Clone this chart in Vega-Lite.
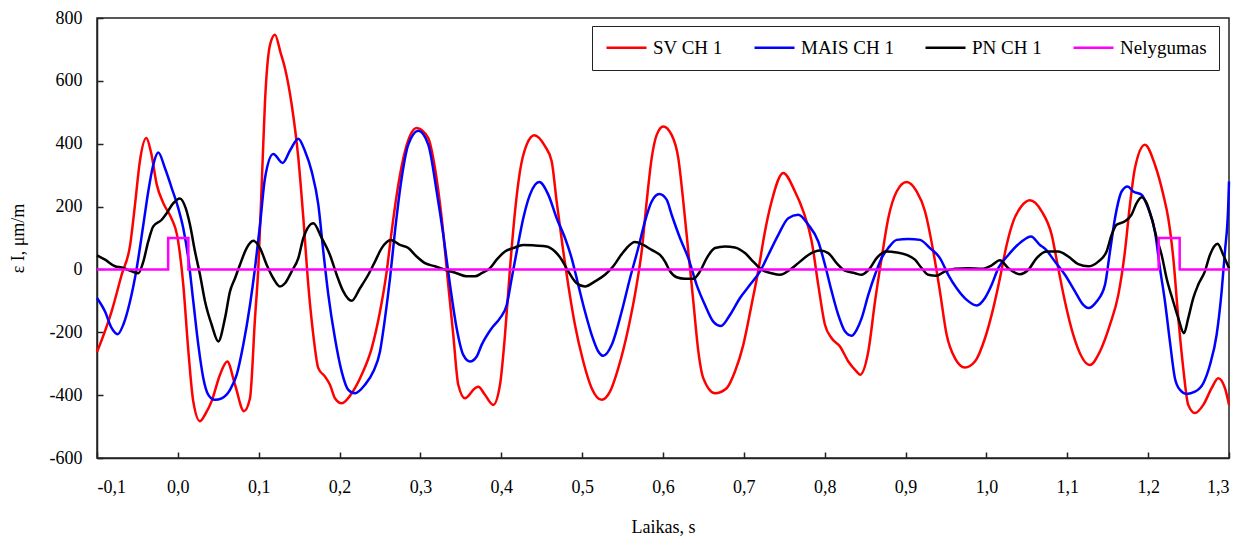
{
"$schema": "https://vega.github.io/schema/vega-lite/v6.json",
"width": 1132, "height": 440,
"autosize": {"type": "none"},
"padding": {"left": 97, "top": 18, "right": 29, "bottom": 79},
"background": "white",
"config": {
  "view": {"stroke": "#222", "strokeWidth": 1.5},
  "font": "Liberation Serif",
  "axis": {"labelFont": "Liberation Serif", "titleFont": "Liberation Serif", "labelFontSize": 18, "titleFontSize": 18, "titleFontWeight": "normal", "labelColor": "#000", "titleColor": "#000", "domainColor": "#222", "domainWidth": 1.5, "tickColor": "#222", "tickWidth": 1.5, "tickSize": -6, "grid": false}
},
"datasets": {
"d": [
{"s":"SV CH 1","x":-0.1,"y":-263},{"s":"SV CH 1","x":-0.082,"y":-134},{"s":"SV CH 1","x":-0.0695,"y":-17},{"s":"SV CH 1","x":-0.059,"y":78},{"s":"SV CH 1","x":-0.053,"y":206},{"s":"SV CH 1","x":-0.047,"y":344},{"s":"SV CH 1","x":-0.039,"y":418},{"s":"SV CH 1","x":-0.033,"y":370},{"s":"SV CH 1","x":-0.026,"y":269},{"s":"SV CH 1","x":-0.018,"y":211},{"s":"SV CH 1","x":-0.008,"y":163},{"s":"SV CH 1","x":-0.001,"y":110},{"s":"SV CH 1","x":0.0067,"y":-49},{"s":"SV CH 1","x":0.013,"y":-260},{"s":"SV CH 1","x":0.019,"y":-419},{"s":"SV CH 1","x":0.0274,"y":-483},{"s":"SV CH 1","x":0.034,"y":-460},{"s":"SV CH 1","x":0.0418,"y":-419},{"s":"SV CH 1","x":0.0521,"y":-335},{"s":"SV CH 1","x":0.0611,"y":-293},{"s":"SV CH 1","x":0.0707,"y":-367},{"s":"SV CH 1","x":0.0818,"y":-451},{"s":"SV CH 1","x":0.0892,"y":-410},{"s":"SV CH 1","x":0.0954,"y":-155},{"s":"SV CH 1","x":0.0995,"y":4},{"s":"SV CH 1","x":0.1037,"y":269},{"s":"SV CH 1","x":0.1078,"y":536},{"s":"SV CH 1","x":0.114,"y":715},{"s":"SV CH 1","x":0.1201,"y":747},{"s":"SV CH 1","x":0.127,"y":690},{"s":"SV CH 1","x":0.1325,"y":640},{"s":"SV CH 1","x":0.1408,"y":524},{"s":"SV CH 1","x":0.149,"y":354},{"s":"SV CH 1","x":0.1552,"y":163},{"s":"SV CH 1","x":0.1613,"y":-49},{"s":"SV CH 1","x":0.1675,"y":-208},{"s":"SV CH 1","x":0.1737,"y":-314},{"s":"SV CH 1","x":0.182,"y":-341},{"s":"SV CH 1","x":0.1881,"y":-367},{"s":"SV CH 1","x":0.1943,"y":-410},{"s":"SV CH 1","x":0.2026,"y":-426},{"s":"SV CH 1","x":0.215,"y":-394},{"s":"SV CH 1","x":0.2273,"y":-335},{"s":"SV CH 1","x":0.2397,"y":-251},{"s":"SV CH 1","x":0.25,"y":-134},{"s":"SV CH 1","x":0.2583,"y":-6},{"s":"SV CH 1","x":0.2644,"y":121},{"s":"SV CH 1","x":0.2726,"y":269},{"s":"SV CH 1","x":0.2809,"y":376},{"s":"SV CH 1","x":0.2953,"y":450},{"s":"SV CH 1","x":0.3097,"y":418},{"s":"SV CH 1","x":0.318,"y":322},{"s":"SV CH 1","x":0.3263,"y":163},{"s":"SV CH 1","x":0.3344,"y":-49},{"s":"SV CH 1","x":0.3406,"y":-208},{"s":"SV CH 1","x":0.3468,"y":-367},{"s":"SV CH 1","x":0.3551,"y":-410},{"s":"SV CH 1","x":0.3675,"y":-378},{"s":"SV CH 1","x":0.3716,"y":-373},{"s":"SV CH 1","x":0.3798,"y":-399},{"s":"SV CH 1","x":0.3901,"y":-431},{"s":"SV CH 1","x":0.3984,"y":-367},{"s":"SV CH 1","x":0.4046,"y":-208},{"s":"SV CH 1","x":0.4108,"y":4},{"s":"SV CH 1","x":0.417,"y":185},{"s":"SV CH 1","x":0.4231,"y":312},{"s":"SV CH 1","x":0.4314,"y":397},{"s":"SV CH 1","x":0.4408,"y":427},{"s":"SV CH 1","x":0.454,"y":392},{"s":"SV CH 1","x":0.4623,"y":344},{"s":"SV CH 1","x":0.4685,"y":216},{"s":"SV CH 1","x":0.4767,"y":57},{"s":"SV CH 1","x":0.4828,"y":-49},{"s":"SV CH 1","x":0.4911,"y":-176},{"s":"SV CH 1","x":0.5014,"y":-293},{"s":"SV CH 1","x":0.5118,"y":-378},{"s":"SV CH 1","x":0.5241,"y":-415},{"s":"SV CH 1","x":0.5344,"y":-389},{"s":"SV CH 1","x":0.5447,"y":-314},{"s":"SV CH 1","x":0.5571,"y":-187},{"s":"SV CH 1","x":0.5674,"y":-49},{"s":"SV CH 1","x":0.5736,"y":57},{"s":"SV CH 1","x":0.5798,"y":216},{"s":"SV CH 1","x":0.586,"y":354},{"s":"SV CH 1","x":0.5922,"y":428},{"s":"SV CH 1","x":0.6003,"y":455},{"s":"SV CH 1","x":0.6107,"y":428},{"s":"SV CH 1","x":0.6189,"y":354},{"s":"SV CH 1","x":0.6251,"y":216},{"s":"SV CH 1","x":0.6313,"y":57},{"s":"SV CH 1","x":0.6375,"y":-102},{"s":"SV CH 1","x":0.6437,"y":-261},{"s":"SV CH 1","x":0.6498,"y":-346},{"s":"SV CH 1","x":0.6643,"y":-394},{"s":"SV CH 1","x":0.6787,"y":-378},{"s":"SV CH 1","x":0.689,"y":-325},{"s":"SV CH 1","x":0.6993,"y":-240},{"s":"SV CH 1","x":0.7095,"y":-113},{"s":"SV CH 1","x":0.7177,"y":-6},{"s":"SV CH 1","x":0.7261,"y":121},{"s":"SV CH 1","x":0.7343,"y":216},{"s":"SV CH 1","x":0.7487,"y":307},{"s":"SV CH 1","x":0.7632,"y":248},{"s":"SV CH 1","x":0.7735,"y":185},{"s":"SV CH 1","x":0.7839,"y":89},{"s":"SV CH 1","x":0.792,"y":-49},{"s":"SV CH 1","x":0.8003,"y":-176},{"s":"SV CH 1","x":0.8086,"y":-219},{"s":"SV CH 1","x":0.8189,"y":-245},{"s":"SV CH 1","x":0.8292,"y":-293},{"s":"SV CH 1","x":0.8395,"y":-325},{"s":"SV CH 1","x":0.8436,"y":-335},{"s":"SV CH 1","x":0.8539,"y":-261},{"s":"SV CH 1","x":0.8622,"y":-102},{"s":"SV CH 1","x":0.8704,"y":36},{"s":"SV CH 1","x":0.8786,"y":163},{"s":"SV CH 1","x":0.889,"y":248},{"s":"SV CH 1","x":0.9013,"y":278},{"s":"SV CH 1","x":0.9137,"y":248},{"s":"SV CH 1","x":0.924,"y":185},{"s":"SV CH 1","x":0.9343,"y":57},{"s":"SV CH 1","x":0.9425,"y":-70},{"s":"SV CH 1","x":0.9508,"y":-208},{"s":"SV CH 1","x":0.961,"y":-282},{"s":"SV CH 1","x":0.9734,"y":-312},{"s":"SV CH 1","x":0.9858,"y":-293},{"s":"SV CH 1","x":0.9982,"y":-219},{"s":"SV CH 1","x":1.0085,"y":-123},{"s":"SV CH 1","x":1.0167,"y":-28},{"s":"SV CH 1","x":1.025,"y":78},{"s":"SV CH 1","x":1.0332,"y":153},{"s":"SV CH 1","x":1.043,"y":200},{"s":"SV CH 1","x":1.0538,"y":220},{"s":"SV CH 1","x":1.0683,"y":185},{"s":"SV CH 1","x":1.0807,"y":110},{"s":"SV CH 1","x":1.0888,"y":4},{"s":"SV CH 1","x":1.0971,"y":-102},{"s":"SV CH 1","x":1.1074,"y":-208},{"s":"SV CH 1","x":1.128,"y":-304},{"s":"SV CH 1","x":1.1404,"y":-261},{"s":"SV CH 1","x":1.1528,"y":-176},{"s":"SV CH 1","x":1.1631,"y":-81},{"s":"SV CH 1","x":1.1713,"y":57},{"s":"SV CH 1","x":1.1775,"y":206},{"s":"SV CH 1","x":1.1837,"y":323},{"s":"SV CH 1","x":1.196,"y":397},{"s":"SV CH 1","x":1.2084,"y":333},{"s":"SV CH 1","x":1.2187,"y":238},{"s":"SV CH 1","x":1.2249,"y":163},{"s":"SV CH 1","x":1.2311,"y":36},{"s":"SV CH 1","x":1.2373,"y":-155},{"s":"SV CH 1","x":1.2434,"y":-314},{"s":"SV CH 1","x":1.2496,"y":-431},{"s":"SV CH 1","x":1.2579,"y":-457},{"s":"SV CH 1","x":1.2682,"y":-431},{"s":"SV CH 1","x":1.2785,"y":-378},{"s":"SV CH 1","x":1.2867,"y":-346},{"s":"SV CH 1","x":1.295,"y":-378},{"s":"SV CH 1","x":1.3,"y":-431},
{"s":"MAIS CH 1","x":-0.1,"y":-91},{"s":"MAIS CH 1","x":-0.0901,"y":-134},{"s":"MAIS CH 1","x":-0.0818,"y":-187},{"s":"MAIS CH 1","x":-0.0744,"y":-206},{"s":"MAIS CH 1","x":-0.0675,"y":-176},{"s":"MAIS CH 1","x":-0.0592,"y":-102},{"s":"MAIS CH 1","x":-0.0509,"y":4},{"s":"MAIS CH 1","x":-0.0427,"y":142},{"s":"MAIS CH 1","x":-0.0366,"y":248},{"s":"MAIS CH 1","x":-0.0304,"y":333},{"s":"MAIS CH 1","x":-0.0242,"y":372},{"s":"MAIS CH 1","x":-0.0159,"y":322},{"s":"MAIS CH 1","x":-0.0076,"y":259},{"s":"MAIS CH 1","x":0.0005,"y":195},{"s":"MAIS CH 1","x":0.0067,"y":131},{"s":"MAIS CH 1","x":0.0129,"y":36},{"s":"MAIS CH 1","x":0.0191,"y":-102},{"s":"MAIS CH 1","x":0.0253,"y":-240},{"s":"MAIS CH 1","x":0.0315,"y":-346},{"s":"MAIS CH 1","x":0.0377,"y":-399},{"s":"MAIS CH 1","x":0.0459,"y":-415},{"s":"MAIS CH 1","x":0.0542,"y":-410},{"s":"MAIS CH 1","x":0.0645,"y":-383},{"s":"MAIS CH 1","x":0.0728,"y":-335},{"s":"MAIS CH 1","x":0.0809,"y":-240},{"s":"MAIS CH 1","x":0.0892,"y":-113},{"s":"MAIS CH 1","x":0.0954,"y":4},{"s":"MAIS CH 1","x":0.1016,"y":142},{"s":"MAIS CH 1","x":0.1078,"y":291},{"s":"MAIS CH 1","x":0.118,"y":367},{"s":"MAIS CH 1","x":0.1297,"y":339},{"s":"MAIS CH 1","x":0.139,"y":380},{"s":"MAIS CH 1","x":0.149,"y":416},{"s":"MAIS CH 1","x":0.1573,"y":376},{"s":"MAIS CH 1","x":0.1655,"y":312},{"s":"MAIS CH 1","x":0.1737,"y":206},{"s":"MAIS CH 1","x":0.1799,"y":57},{"s":"MAIS CH 1","x":0.1861,"y":-81},{"s":"MAIS CH 1","x":0.1943,"y":-219},{"s":"MAIS CH 1","x":0.2026,"y":-325},{"s":"MAIS CH 1","x":0.2108,"y":-383},{"s":"MAIS CH 1","x":0.2191,"y":-394},{"s":"MAIS CH 1","x":0.2314,"y":-367},{"s":"MAIS CH 1","x":0.2417,"y":-325},{"s":"MAIS CH 1","x":0.25,"y":-261},{"s":"MAIS CH 1","x":0.2562,"y":-155},{"s":"MAIS CH 1","x":0.2624,"y":-28},{"s":"MAIS CH 1","x":0.2685,"y":121},{"s":"MAIS CH 1","x":0.2768,"y":291},{"s":"MAIS CH 1","x":0.285,"y":397},{"s":"MAIS CH 1","x":0.2974,"y":441},{"s":"MAIS CH 1","x":0.3097,"y":397},{"s":"MAIS CH 1","x":0.3201,"y":248},{"s":"MAIS CH 1","x":0.3283,"y":110},{"s":"MAIS CH 1","x":0.3366,"y":-49},{"s":"MAIS CH 1","x":0.3448,"y":-187},{"s":"MAIS CH 1","x":0.353,"y":-272},{"s":"MAIS CH 1","x":0.3613,"y":-293},{"s":"MAIS CH 1","x":0.3696,"y":-277},{"s":"MAIS CH 1","x":0.3757,"y":-240},{"s":"MAIS CH 1","x":0.3881,"y":-187},{"s":"MAIS CH 1","x":0.3984,"y":-155},{"s":"MAIS CH 1","x":0.4067,"y":-113},{"s":"MAIS CH 1","x":0.4129,"y":-28},{"s":"MAIS CH 1","x":0.4191,"y":57},{"s":"MAIS CH 1","x":0.4272,"y":163},{"s":"MAIS CH 1","x":0.4355,"y":238},{"s":"MAIS CH 1","x":0.447,"y":278},{"s":"MAIS CH 1","x":0.4581,"y":238},{"s":"MAIS CH 1","x":0.4685,"y":163},{"s":"MAIS CH 1","x":0.4788,"y":100},{"s":"MAIS CH 1","x":0.487,"y":36},{"s":"MAIS CH 1","x":0.4952,"y":-49},{"s":"MAIS CH 1","x":0.5035,"y":-134},{"s":"MAIS CH 1","x":0.5118,"y":-208},{"s":"MAIS CH 1","x":0.52,"y":-261},{"s":"MAIS CH 1","x":0.5262,"y":-275},{"s":"MAIS CH 1","x":0.5366,"y":-240},{"s":"MAIS CH 1","x":0.5489,"y":-134},{"s":"MAIS CH 1","x":0.5592,"y":-28},{"s":"MAIS CH 1","x":0.5694,"y":68},{"s":"MAIS CH 1","x":0.5777,"y":153},{"s":"MAIS CH 1","x":0.586,"y":216},{"s":"MAIS CH 1","x":0.5954,"y":240},{"s":"MAIS CH 1","x":0.6045,"y":222},{"s":"MAIS CH 1","x":0.6107,"y":174},{"s":"MAIS CH 1","x":0.621,"y":100},{"s":"MAIS CH 1","x":0.6313,"y":36},{"s":"MAIS CH 1","x":0.6416,"y":-49},{"s":"MAIS CH 1","x":0.6519,"y":-113},{"s":"MAIS CH 1","x":0.6622,"y":-166},{"s":"MAIS CH 1","x":0.6717,"y":-180},{"s":"MAIS CH 1","x":0.6828,"y":-145},{"s":"MAIS CH 1","x":0.6952,"y":-91},{"s":"MAIS CH 1","x":0.7076,"y":-49},{"s":"MAIS CH 1","x":0.72,"y":-6},{"s":"MAIS CH 1","x":0.7302,"y":46},{"s":"MAIS CH 1","x":0.7426,"y":110},{"s":"MAIS CH 1","x":0.7549,"y":163},{"s":"MAIS CH 1","x":0.7673,"y":174},{"s":"MAIS CH 1","x":0.7797,"y":142},{"s":"MAIS CH 1","x":0.792,"y":89},{"s":"MAIS CH 1","x":0.8003,"y":15},{"s":"MAIS CH 1","x":0.8086,"y":-70},{"s":"MAIS CH 1","x":0.8168,"y":-145},{"s":"MAIS CH 1","x":0.825,"y":-197},{"s":"MAIS CH 1","x":0.8333,"y":-211},{"s":"MAIS CH 1","x":0.8395,"y":-192},{"s":"MAIS CH 1","x":0.8457,"y":-155},{"s":"MAIS CH 1","x":0.8539,"y":-81},{"s":"MAIS CH 1","x":0.8622,"y":-17},{"s":"MAIS CH 1","x":0.8704,"y":36},{"s":"MAIS CH 1","x":0.8786,"y":68},{"s":"MAIS CH 1","x":0.889,"y":94},{"s":"MAIS CH 1","x":0.9034,"y":97},{"s":"MAIS CH 1","x":0.9178,"y":94},{"s":"MAIS CH 1","x":0.9302,"y":68},{"s":"MAIS CH 1","x":0.9425,"y":36},{"s":"MAIS CH 1","x":0.9528,"y":-17},{"s":"MAIS CH 1","x":0.9632,"y":-60},{"s":"MAIS CH 1","x":0.9756,"y":-97},{"s":"MAIS CH 1","x":0.988,"y":-115},{"s":"MAIS CH 1","x":0.9982,"y":-91},{"s":"MAIS CH 1","x":1.0065,"y":-49},{"s":"MAIS CH 1","x":1.0147,"y":4},{"s":"MAIS CH 1","x":1.0271,"y":46},{"s":"MAIS CH 1","x":1.0436,"y":89},{"s":"MAIS CH 1","x":1.0551,"y":105},{"s":"MAIS CH 1","x":1.0662,"y":78},{"s":"MAIS CH 1","x":1.0724,"y":66},{"s":"MAIS CH 1","x":1.0847,"y":25},{"s":"MAIS CH 1","x":1.0971,"y":-17},{"s":"MAIS CH 1","x":1.1095,"y":-70},{"s":"MAIS CH 1","x":1.1198,"y":-113},{"s":"MAIS CH 1","x":1.1259,"y":-123},{"s":"MAIS CH 1","x":1.1363,"y":-102},{"s":"MAIS CH 1","x":1.1466,"y":-49},{"s":"MAIS CH 1","x":1.1528,"y":57},{"s":"MAIS CH 1","x":1.159,"y":163},{"s":"MAIS CH 1","x":1.1672,"y":248},{"s":"MAIS CH 1","x":1.1746,"y":264},{"s":"MAIS CH 1","x":1.1816,"y":248},{"s":"MAIS CH 1","x":1.1919,"y":238},{"s":"MAIS CH 1","x":1.2,"y":195},{"s":"MAIS CH 1","x":1.2084,"y":121},{"s":"MAIS CH 1","x":1.2146,"y":4},{"s":"MAIS CH 1","x":1.2208,"y":-102},{"s":"MAIS CH 1","x":1.2269,"y":-229},{"s":"MAIS CH 1","x":1.2331,"y":-346},{"s":"MAIS CH 1","x":1.2393,"y":-383},{"s":"MAIS CH 1","x":1.2475,"y":-396},{"s":"MAIS CH 1","x":1.2579,"y":-389},{"s":"MAIS CH 1","x":1.2682,"y":-362},{"s":"MAIS CH 1","x":1.2764,"y":-304},{"s":"MAIS CH 1","x":1.2847,"y":-208},{"s":"MAIS CH 1","x":1.2909,"y":-70},{"s":"MAIS CH 1","x":1.295,"y":57},{"s":"MAIS CH 1","x":1.2991,"y":206},{"s":"MAIS CH 1","x":1.3,"y":280},
{"s":"PN CH 1","x":-0.1,"y":45},{"s":"PN CH 1","x":-0.0901,"y":31},{"s":"PN CH 1","x":-0.0777,"y":10},{"s":"PN CH 1","x":-0.0695,"y":6},{"s":"PN CH 1","x":-0.0571,"y":-6},{"s":"PN CH 1","x":-0.0489,"y":-12},{"s":"PN CH 1","x":-0.0427,"y":25},{"s":"PN CH 1","x":-0.0366,"y":89},{"s":"PN CH 1","x":-0.0304,"y":137},{"s":"PN CH 1","x":-0.02,"y":158},{"s":"PN CH 1","x":-0.0138,"y":179},{"s":"PN CH 1","x":-0.0056,"y":211},{"s":"PN CH 1","x":0.0026,"y":226},{"s":"PN CH 1","x":0.0097,"y":195},{"s":"PN CH 1","x":0.015,"y":142},{"s":"PN CH 1","x":0.0212,"y":57},{"s":"PN CH 1","x":0.0274,"y":-17},{"s":"PN CH 1","x":0.0336,"y":-102},{"s":"PN CH 1","x":0.0418,"y":-176},{"s":"PN CH 1","x":0.05,"y":-229},{"s":"PN CH 1","x":0.0583,"y":-155},{"s":"PN CH 1","x":0.0645,"y":-70},{"s":"PN CH 1","x":0.0707,"y":-28},{"s":"PN CH 1","x":0.0768,"y":15},{"s":"PN CH 1","x":0.0851,"y":68},{"s":"PN CH 1","x":0.0933,"y":91},{"s":"PN CH 1","x":0.1016,"y":68},{"s":"PN CH 1","x":0.1098,"y":15},{"s":"PN CH 1","x":0.118,"y":-28},{"s":"PN CH 1","x":0.1263,"y":-54},{"s":"PN CH 1","x":0.1325,"y":-44},{"s":"PN CH 1","x":0.1408,"y":-6},{"s":"PN CH 1","x":0.149,"y":36},{"s":"PN CH 1","x":0.1552,"y":100},{"s":"PN CH 1","x":0.1675,"y":147},{"s":"PN CH 1","x":0.1779,"y":100},{"s":"PN CH 1","x":0.1881,"y":46},{"s":"PN CH 1","x":0.1964,"y":-17},{"s":"PN CH 1","x":0.2046,"y":-70},{"s":"PN CH 1","x":0.215,"y":-100},{"s":"PN CH 1","x":0.2252,"y":-60},{"s":"PN CH 1","x":0.2355,"y":-17},{"s":"PN CH 1","x":0.2438,"y":25},{"s":"PN CH 1","x":0.2521,"y":68},{"s":"PN CH 1","x":0.2636,"y":94},{"s":"PN CH 1","x":0.2747,"y":78},{"s":"PN CH 1","x":0.285,"y":68},{"s":"PN CH 1","x":0.2953,"y":41},{"s":"PN CH 1","x":0.3056,"y":20},{"s":"PN CH 1","x":0.318,"y":10},{"s":"PN CH 1","x":0.3304,"y":-1},{"s":"PN CH 1","x":0.3448,"y":-12},{"s":"PN CH 1","x":0.3572,"y":-22},{"s":"PN CH 1","x":0.3675,"y":-22},{"s":"PN CH 1","x":0.3757,"y":-12},{"s":"PN CH 1","x":0.386,"y":4},{"s":"PN CH 1","x":0.3943,"y":31},{"s":"PN CH 1","x":0.4046,"y":57},{"s":"PN CH 1","x":0.4149,"y":68},{"s":"PN CH 1","x":0.4272,"y":78},{"s":"PN CH 1","x":0.4417,"y":76},{"s":"PN CH 1","x":0.4561,"y":73},{"s":"PN CH 1","x":0.4664,"y":57},{"s":"PN CH 1","x":0.4747,"y":31},{"s":"PN CH 1","x":0.4828,"y":-6},{"s":"PN CH 1","x":0.4932,"y":-44},{"s":"PN CH 1","x":0.5035,"y":-54},{"s":"PN CH 1","x":0.5159,"y":-38},{"s":"PN CH 1","x":0.5282,"y":-17},{"s":"PN CH 1","x":0.5385,"y":10},{"s":"PN CH 1","x":0.5468,"y":41},{"s":"PN CH 1","x":0.555,"y":68},{"s":"PN CH 1","x":0.5653,"y":87},{"s":"PN CH 1","x":0.5756,"y":78},{"s":"PN CH 1","x":0.586,"y":62},{"s":"PN CH 1","x":0.5963,"y":46},{"s":"PN CH 1","x":0.6025,"y":25},{"s":"PN CH 1","x":0.6087,"y":-6},{"s":"PN CH 1","x":0.6169,"y":-25},{"s":"PN CH 1","x":0.6272,"y":-30},{"s":"PN CH 1","x":0.6375,"y":-30},{"s":"PN CH 1","x":0.6458,"y":-6},{"s":"PN CH 1","x":0.6541,"y":36},{"s":"PN CH 1","x":0.6643,"y":68},{"s":"PN CH 1","x":0.6767,"y":73},{"s":"PN CH 1","x":0.689,"y":70},{"s":"PN CH 1","x":0.7014,"y":52},{"s":"PN CH 1","x":0.7116,"y":25},{"s":"PN CH 1","x":0.722,"y":-1},{"s":"PN CH 1","x":0.7343,"y":-12},{"s":"PN CH 1","x":0.7447,"y":-17},{"s":"PN CH 1","x":0.757,"y":-1},{"s":"PN CH 1","x":0.7673,"y":20},{"s":"PN CH 1","x":0.7797,"y":46},{"s":"PN CH 1","x":0.7941,"y":60},{"s":"PN CH 1","x":0.8044,"y":52},{"s":"PN CH 1","x":0.8147,"y":20},{"s":"PN CH 1","x":0.825,"y":-4},{"s":"PN CH 1","x":0.8374,"y":-12},{"s":"PN CH 1","x":0.8457,"y":-17},{"s":"PN CH 1","x":0.856,"y":4},{"s":"PN CH 1","x":0.8642,"y":36},{"s":"PN CH 1","x":0.8766,"y":57},{"s":"PN CH 1","x":0.889,"y":54},{"s":"PN CH 1","x":0.9013,"y":46},{"s":"PN CH 1","x":0.9116,"y":31},{"s":"PN CH 1","x":0.9199,"y":4},{"s":"PN CH 1","x":0.9281,"y":-17},{"s":"PN CH 1","x":0.9385,"y":-20},{"s":"PN CH 1","x":0.9487,"y":-6},{"s":"PN CH 1","x":0.961,"y":2},{"s":"PN CH 1","x":0.9775,"y":4},{"s":"PN CH 1","x":0.9941,"y":2},{"s":"PN CH 1","x":1.0065,"y":13},{"s":"PN CH 1","x":1.0167,"y":29},{"s":"PN CH 1","x":1.0271,"y":4},{"s":"PN CH 1","x":1.0415,"y":-15},{"s":"PN CH 1","x":1.0518,"y":-1},{"s":"PN CH 1","x":1.0621,"y":36},{"s":"PN CH 1","x":1.0745,"y":57},{"s":"PN CH 1","x":1.0888,"y":57},{"s":"PN CH 1","x":1.1012,"y":41},{"s":"PN CH 1","x":1.1136,"y":17},{"s":"PN CH 1","x":1.1259,"y":10},{"s":"PN CH 1","x":1.1383,"y":25},{"s":"PN CH 1","x":1.1486,"y":57},{"s":"PN CH 1","x":1.1548,"y":110},{"s":"PN CH 1","x":1.161,"y":142},{"s":"PN CH 1","x":1.1713,"y":153},{"s":"PN CH 1","x":1.1795,"y":174},{"s":"PN CH 1","x":1.1857,"y":211},{"s":"PN CH 1","x":1.1919,"y":230},{"s":"PN CH 1","x":1.1981,"y":211},{"s":"PN CH 1","x":1.2043,"y":163},{"s":"PN CH 1","x":1.2105,"y":100},{"s":"PN CH 1","x":1.2167,"y":46},{"s":"PN CH 1","x":1.2228,"y":-28},{"s":"PN CH 1","x":1.231,"y":-102},{"s":"PN CH 1","x":1.2373,"y":-155},{"s":"PN CH 1","x":1.2443,"y":-203},{"s":"PN CH 1","x":1.2496,"y":-155},{"s":"PN CH 1","x":1.2558,"y":-91},{"s":"PN CH 1","x":1.2619,"y":-49},{"s":"PN CH 1","x":1.2702,"y":-6},{"s":"PN CH 1","x":1.2764,"y":46},{"s":"PN CH 1","x":1.2859,"y":82},{"s":"PN CH 1","x":1.2929,"y":46},{"s":"PN CH 1","x":1.3,"y":4},
{"s":"Nelygumas","x":-0.1,"y":0},{"s":"Nelygumas","x":-0.012,"y":100},{"s":"Nelygumas","x":0.013,"y":0},{"s":"Nelygumas","x":1.213,"y":100},{"s":"Nelygumas","x":1.239,"y":0},{"s":"Nelygumas","x":1.3,"y":0}
]
},
"data": {"name": "d"},
"encoding": {
  "x": {"field": "x", "type": "quantitative", "scale": {"domain": [-0.1, 1.3], "nice": false, "zero": false},
        "axis": {"title": "Laikas, s", "values": [-0.1, 0, 0.1, 0.2, 0.3, 0.4, 0.5, 0.6, 0.7, 0.8, 0.9, 1.0, 1.1, 1.2, 1.3], "labelExpr": "replace(replace(format(datum.value,'.1f'),'.',','),'\u2212','-')", "labelPadding": 26, "titlePadding": 22}},
  "y": {"field": "y", "type": "quantitative", "scale": {"domain": [-600, 800], "nice": false},
        "axis": {"title": "ε I, μm/m", "values": [-600, -400, -200, 0, 200, 400, 600, 800], "labelExpr": "replace(format(datum.value,'d'),'\u2212','-')", "labelPadding": 21, "titlePadding": 22}},
  "color": {"field": "s", "type": "nominal",
            "scale": {"domain": ["SV CH 1", "MAIS CH 1", "PN CH 1", "Nelygumas"], "range": ["#ff0000", "#0000ff", "#000000", "#ff00ff"]},
            "legend": {"title": null, "orient": "none", "legendX": 495, "legendY": 8, "direction": "horizontal", "strokeColor": "#222", "fillColor": "white", "padding": 12, "symbolType": "M-1.4,0H6.6", "symbolSize": 100, "symbolStrokeWidth": 2.5, "symbolFillColor": "transparent", "labelFont": "Liberation Serif", "labelFontSize": 19, "labelColor": "#000", "labelOffset": 30, "columnPadding": 26, "labelLimit": 300}}
},
"layer": [
  {"transform": [{"filter": "datum.s !== 'Nelygumas'"}], "mark": {"type": "line", "interpolate": "monotone", "strokeWidth": 2.5}},
  {"transform": [{"filter": "datum.s === 'Nelygumas'"}], "mark": {"type": "line", "interpolate": "step-after", "strokeWidth": 2.5}}
]
}
